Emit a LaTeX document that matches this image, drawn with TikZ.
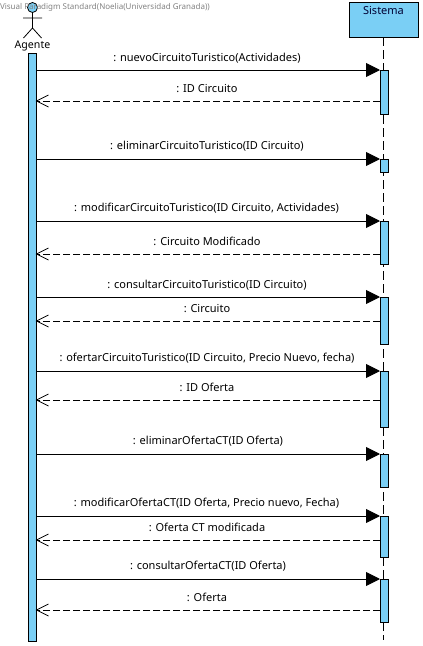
\documentclass[tikz,border=0pt]{standalone}
\usepackage{fontspec}
\setmainfont{Noto Sans}
\usetikzlibrary{arrows.meta,calc}
\definecolor{vpblue}{RGB}{122,207,245}
\definecolor{wm}{RGB}{130,130,130}
\tikzset{
  x=1pt,y=-1pt,
  every node/.style={inner sep=0pt,outer sep=0pt},
  bar/.style={draw=black,fill=vpblue,line width=.9pt,minimum width=8pt,anchor=north},
  call/.style={draw=black,line width=.9pt,-{Triangle[length=14pt,width=14pt,fill=black]}},
  msg/.style={font=\fontsize{11pt}{12pt}\selectfont,anchor=center},
  life/.style={draw=black,line width=.9pt,dash pattern=on 9pt off 4pt},
  open/.style={draw=black,line width=.7pt},
}
\newcommand{\openhead}[1]{\draw[open] ($(#1)+(12,-6)$) -- (#1) -- ($(#1)+(12,6)$);}
\begin{document}
\begin{tikzpicture}
\useasboundingbox (0,0) rectangle (423,646);
% Sistema
\node[draw=black,fill=vpblue,line width=.9pt,minimum width=69pt,minimum height=35pt,anchor=north west] (sis) at (349,2) {};
\node[font=\fontsize{11pt}{12pt}\selectfont,text=black!80!blue] (sisname) at (383.5,10) {Sistema};
\coordinate (lifeend) at (383.5,640);
\draw[life] (sis.south) -- (lifeend);
% Agente
\node[draw=black,fill=vpblue,line width=.8pt,circle,minimum size=10pt] (head) at (32.5,7.5) {};
\coordinate (hip) at (32.5,28);
\coordinate (armL) at (23,18);
\coordinate (armR) at (42,18);
\coordinate (footL) at (23.5,38);
\coordinate (footR) at (41.5,38);
\draw[line width=.8pt] (head.south) -- (hip) (armL) -- (armR) (footL) -- (hip) -- (footR);
\node[font=\fontsize{10.6pt}{12pt}\selectfont] (agname) at (32.5,45.5) {Agente};
\node[bar,minimum height=588pt] (ag) at (32.5,53) {};
% watermark
\node[font=\fontsize{8pt}{9pt}\selectfont,text=wm,anchor=west] (wmark) at (0,7) {Visual Paradigm Standard(Noelia(Universidad Granada))};
% activations
\foreach \n/\t/\h in {s1/70/44,s2/159/13,s3/221/43,s4/297/47,s5/371/56,s6/454/33,s7/516/41,s8/579/43}
  \node[bar,minimum height=\h pt] (\n) at (384,\t) {};
% calls
\foreach \n/\lab/\lx/\ly in {
  s1/{: nuevoCircuitoTuristico(Actividades)}/207/58,
  s2/{: eliminarCircuitoTuristico(ID Circuito)}/207/146.5,
  s3/{: modificarCircuitoTuristico(ID Circuito, Actividades)}/206.5/208.5,
  s4/{: consultarCircuitoTuristico(ID Circuito)}/207/285,
  s5/{: ofertarCircuitoTuristico(ID Circuito, Precio Nuevo, fecha)}/207/358.5,
  s6/{: eliminarOfertaCT(ID Oferta)}/208/441.5,
  s7/{: modificarOfertaCT(ID Oferta, Precio nuevo, Fecha)}/206.5/503.5,
  s8/{: consultarOfertaCT(ID Oferta)}/208/566.5}{
  \draw[call] (ag.east |- \n.north) -- (\n.north west);
  \node[msg] (l\n) at (\lx,\ly) {\lab};
}
% returns
\foreach \n/\y/\lab/\ly in {
  s1/101/{: ID Circuito}/88.5,
  s3/254/{: Circuito Modificado}/241.5,
  s4/321/{: Circuito}/308.5,
  s5/400/{: ID Oferta}/387.5,
  s7/540/{: Oferta CT modificada}/527,
  s8/610/{: Oferta}/597.5}{
  \coordinate (rs\n) at (\n.west |- 0,\y);
  \coordinate (re\n) at (ag.east |- 0,\y);
  \draw[line width=.9pt,dash pattern=on 7pt off 3pt] (rs\n) -- (re\n);
  \openhead{re\n}
  \node[msg] (r\n) at (207,\ly) {\lab};
}
\end{tikzpicture}
\end{document}
